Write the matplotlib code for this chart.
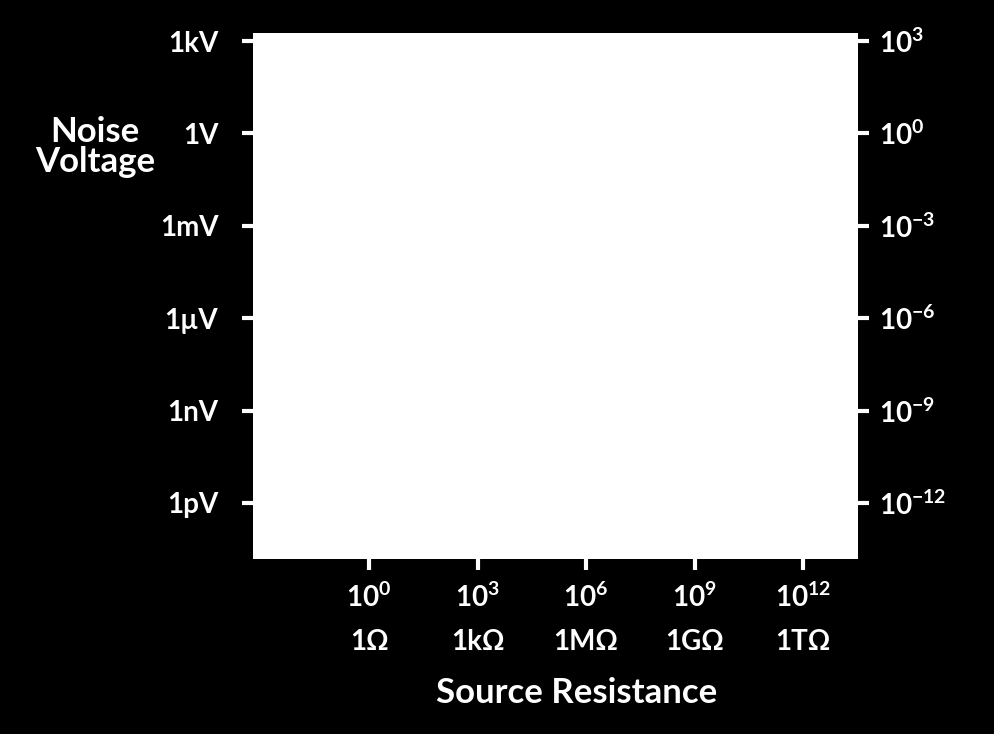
import numpy as np
import matplotlib
matplotlib.use("Agg")
import matplotlib.pyplot as plt

# axis ranges (log10)
x_range = (10**-3.21, 10**13.52)
y_range = (10**-13.82, 10**3.26)

x_ticks = [1e0, 1e3, 1e6, 1e9, 1e12]
x_labels = [r"$10^{0}$" + "\n1Ω", r"$10^{3}$" + "\n1kΩ", r"$10^{6}$" + "\n1MΩ",
            r"$10^{9}$" + "\n1GΩ", r"$10^{12}$" + "\n1TΩ"]
y_ticks = [1e3, 1e0, 1e-3, 1e-6, 1e-9, 1e-12]
y_labels_left = ["1kV", "1V", "1mV", "1µV", "1nV", "1pV"]
y_labels_right = [r"$10^{3}$", r"$10^{0}$", r"$10^{-3}$", r"$10^{-6}$",
                  r"$10^{-9}$", r"$10^{-12}$"]

plt.rcParams["font.family"] = ["Lato", "DejaVu Sans"]
plt.rcParams["font.weight"] = "bold"
plt.rcParams["mathtext.fontset"] = "custom"
plt.rcParams["mathtext.rm"] = "Lato:bold"
plt.rcParams["mathtext.it"] = "Lato:bold"
plt.rcParams["mathtext.default"] = "rm"

fig = plt.figure(figsize=(9.95, 7.34), dpi=100, facecolor="black")
ax = fig.add_axes([253/995, 1 - 559/734, 605/995, 526/734])
ax.set_facecolor("white")
ax.set_xscale("log")
ax.set_yscale("log")
ax.set_xlim(*x_range)
ax.set_ylim(*y_range)
for s in ax.spines.values():
    s.set_visible(False)

ax.set_xticks(x_ticks)
ax.set_xticklabels(x_labels, linespacing=1.8)
ax.set_yticks(y_ticks)
ax.set_yticklabels(y_labels_left)
ax.minorticks_off()
ax.tick_params(colors="white", labelcolor="white", labelsize=20, length=8, width=3)
ax.tick_params(axis="x", pad=9)
ax.tick_params(axis="y", pad=17)

ax2 = ax.twinx()
ax2.set_yscale("log")
ax2.set_ylim(*y_range)
ax2.set_yticks(y_ticks)
ax2.set_yticklabels(y_labels_right)
ax2.minorticks_off()
for s in ax2.spines.values():
    s.set_visible(False)
ax2.tick_params(colors="white", labelcolor="white", labelsize=20, length=8, width=3, pad=7)

fig.text(577/995, 1 - 693/734, "Source Resistance", color="white", fontsize=25,
         ha="center", va="center")
fig.text(95/995, 1 - 147/734, "Noise\nVoltage", color="white", fontsize=25,
         ha="center", va="center", linespacing=0.95)

fig.savefig("out.png", dpi=100, facecolor="black")
